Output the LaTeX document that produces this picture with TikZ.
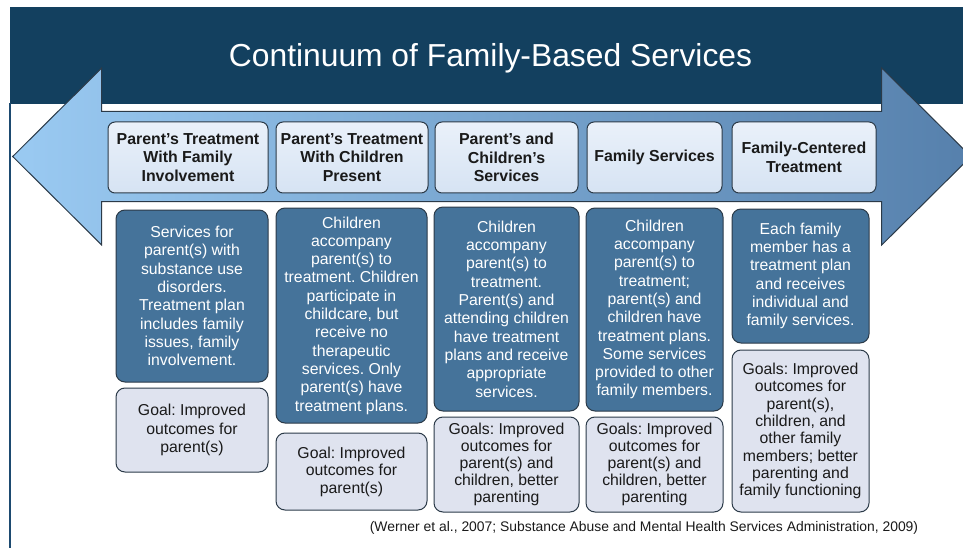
\documentclass[tikz,border=0pt]{standalone}
\usepackage{fontspec}
\setmainfont{Liberation Sans}
\frenchspacing
\definecolor{banner}{HTML}{13405F}
\definecolor{arrL}{HTML}{9ACAF2}
\definecolor{arrR}{HTML}{5680AC}
\definecolor{outl}{HTML}{2B3A48}
\definecolor{hdrtop}{HTML}{EAF1FA}
\definecolor{hdrbot}{HTML}{D6E3F3}
\definecolor{darkbox}{HTML}{45739A}
\definecolor{goalfill}{HTML}{DFE3EF}
\definecolor{txtdark}{HTML}{1A1A1A}
\definecolor{sideline}{HTML}{1D4A70}
\tikzset{
  hdr/.style={draw=outl, line width=1pt, rounded corners=7pt, top color=hdrtop, bottom color=hdrbot,
    align=center, text=txtdark, inner sep=0pt, font=\fontsize{15.9}{18.4}\selectfont\bfseries},
  dbox/.style={draw=outl, line width=1pt, fill=darkbox, rounded corners=9pt, align=center,
    text=white, inner sep=0pt, font=\fontsize{15.8}{18.3}\selectfont},
  gbox/.style={draw=outl, line width=1pt, fill=goalfill, rounded corners=9pt, align=center,
    text=txtdark, inner sep=0pt, font=\fontsize{15.8}{18.3}\selectfont},
  gtight/.style={gbox, font=\fontsize{15.8}{16.9}\selectfont},
}
\begin{document}
\begin{tikzpicture}[x=1pt,y=-1pt]
\useasboundingbox (0,0) rectangle (963,548);
\clip (0,0) rectangle (963,548);
% banner
\fill[banner] (10,7) rectangle (963,104);
\fill[sideline] (9,103) rectangle (11,548);
\node[text=white, anchor=base, font=\fontsize{31.8}{36}\selectfont] (title) at (490.5,67) {Continuum of Family-Based Services};
% double arrow
\shade[left color=arrL, right color=arrR, draw=outl, line width=1pt, line join=miter]
  (12.7,156.5) -- (101.7,68) -- (101.7,111.5) -- (881.7,111.5) -- (881.7,68) -- (971,156.5)
  -- (881.7,245) -- (881.7,201.7) -- (101.7,201.7) -- (101.7,245) -- cycle;
% headers
\node[hdr, minimum width=160pt, minimum height=71pt] (h1) at (188,157.5) {Parent’s Treatment\\With Family\\Involvement};
\node[hdr, minimum width=152pt, minimum height=71pt] (h2) at (352,157.5) {Parent’s Treatment\\With Children\\Present};
\node[hdr, minimum width=143pt, minimum height=71pt] (h3) at (506.5,157.5) {Parent’s and\\Children’s\\Services};
\node[hdr, minimum width=135pt, minimum height=71pt] (h4) at (654.5,157.5) {Family Services};
\node[hdr, minimum width=144pt, minimum height=71pt] (h5) at (804,157.5) {Family-Centered\\Treatment};
% description boxes
\node[dbox, minimum width=152pt, minimum height=172pt] (d1) at (192,296) {Services for\\parent(s) with\\substance use\\disorders.\\Treatment plan\\includes family\\issues, family\\involvement.};
\node[dbox, minimum width=151pt, minimum height=215pt] (d2) at (351.5,315.5) {Children\\accompany\\parent(s) to\\treatment. Children\\participate in\\childcare, but\\receive no\\therapeutic\\services. Only\\parent(s) have\\treatment plans.};
\node[dbox, minimum width=145pt, minimum height=204pt] (d3) at (506.5,309) {Children\\accompany\\parent(s) to\\treatment.\\Parent(s) and\\attending children\\have treatment\\plans and receive\\appropriate\\services.};
\node[dbox, minimum width=137pt, minimum height=203pt] (d4) at (654.5,309.5) {Children\\accompany\\parent(s) to\\treatment;\\parent(s) and\\children have\\treatment plans.\\Some services\\provided to other\\family members.};
\node[dbox, minimum width=137pt, minimum height=134pt] (d5) at (800.5,276) {Each family\\member has a\\treatment plan\\and receives\\individual and\\family services.};
% goal boxes
\node[gbox, minimum width=152pt, minimum height=84pt] (g1) at (192,430) {Goal: Improved\\outcomes for\\parent(s)};
\node[gbox, font=\fontsize{15.8}{17.5}\selectfont, minimum width=151pt, minimum height=77pt] (g2) at (351.5,471.5) {Goal: Improved\\outcomes for\\parent(s)};
\node[gtight, minimum width=145pt, minimum height=95pt] (g3) at (506.5,464.5) {Goals: Improved\\outcomes for\\parent(s) and\\children, better\\parenting};
\node[gtight, minimum width=137pt, minimum height=95pt] (g4) at (654.5,464.5) {Goals: Improved\\outcomes for\\parent(s) and\\children, better\\parenting};
\node[gtight, font=\fontsize{15.8}{17.3}\selectfont, minimum width=137pt, minimum height=162pt] (g5) at (800.5,431) {Goals: Improved\\outcomes for\\parent(s),\\children, and\\other family\\members; better\\parenting and\\family functioning};
% citation
\node[text=txtdark, font=\fontsize{13.9}{15}\selectfont] (cite) at (644,528) {(Werner et al., 2007; Substance Abuse and Mental Health Services Administration, 2009)};
\end{tikzpicture}
\end{document}
